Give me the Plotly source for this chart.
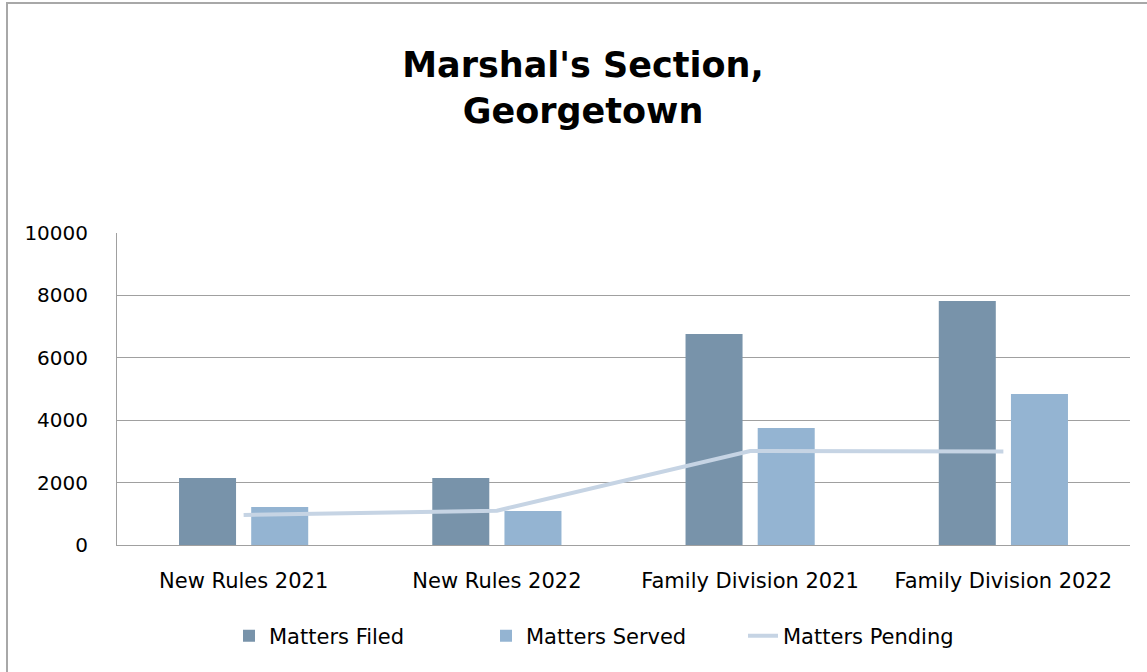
import plotly.graph_objects as go

categories = ["New Rules 2021", "New Rules 2022", "Family Division 2021", "Family Division 2022"]
matters_filed = [2150, 2150, 6760, 7820]
matters_served = [1220, 1090, 3750, 4840]
matters_pending = [960, 1100, 3010, 3000]
y_ticks = [0, 2000, 4000, 6000, 8000, 10000]
y_tick_text = ["0", "2000", "4000", "6000", "8000", "10000"]

FONT = "DejaVu Sans, Verdana, sans-serif"

W, H = 1147, 672
L, R, T, B = 117, 17, 233, 127
PW, PH = W - L - R, H - T - B

fig = go.Figure()
fig.add_trace(go.Bar(x=categories, y=matters_filed, name="Matters Filed",
                     marker=dict(color="#7893AA", line=dict(width=0))))
fig.add_trace(go.Bar(x=categories, y=matters_served, name="Matters Served",
                     marker=dict(color="#94B4D2", line=dict(width=0))))
fig.add_trace(go.Scatter(x=categories, y=matters_pending, name="Matters Pending",
                         mode="lines", line=dict(color="#C6D4E4", width=4)))

fig.update_layout(
    width=W, height=H,
    margin=dict(l=L, r=R, t=T, b=B),
    paper_bgcolor="white", plot_bgcolor="white",
    font=dict(family=FONT, size=21, color="black"),
    title=dict(text="<b>Marshal's Section,<br>Georgetown</b>",
               font=dict(family=FONT, size=35, color="black"),
               x=583 / W, xanchor="center", y=1 - 77 / H, yanchor="middle",
               yref="container"),
    barmode="group", bargap=0.43, bargroupgap=0.21,
    showlegend=True,
    legend=dict(orientation="h", x=(229 - L) / PW, xanchor="left",
                y=(545 - 636) / PH, yanchor="middle",
                entrywidth=212, entrywidthmode="pixels",
                font=dict(family=FONT, size=21), traceorder="normal"),
    xaxis=dict(showgrid=False, showline=True, linecolor="#A0A0A0", linewidth=1,
               ticks="", tickfont=dict(family=FONT, size=21),
               ticklabelstandoff=17),
    yaxis=dict(range=[0, 10000], tickvals=y_ticks, ticktext=y_tick_text,
               showgrid=True, gridcolor="#A0A0A0",
               gridwidth=1, showline=True, linecolor="#A0A0A0", linewidth=1,
               ticks="", zeroline=False, tickfont=dict(family=FONT, size=20),
               ticklabelstandoff=24),
    shapes=[dict(type="rect", xref="paper", yref="paper",
                 x0=(7 - L) / PW, x1=(1152 - L) / PW,
                 y0=(545 - 676) / PH, y1=(545 - 3) / PH,
                 line=dict(color="#A8A8A8", width=2), fillcolor="rgba(0,0,0,0)",
                 layer="below")],
)

fig.write_html("out.html", config={"displayModeBar": False},
               post_script="document.body.style.margin='0';")
